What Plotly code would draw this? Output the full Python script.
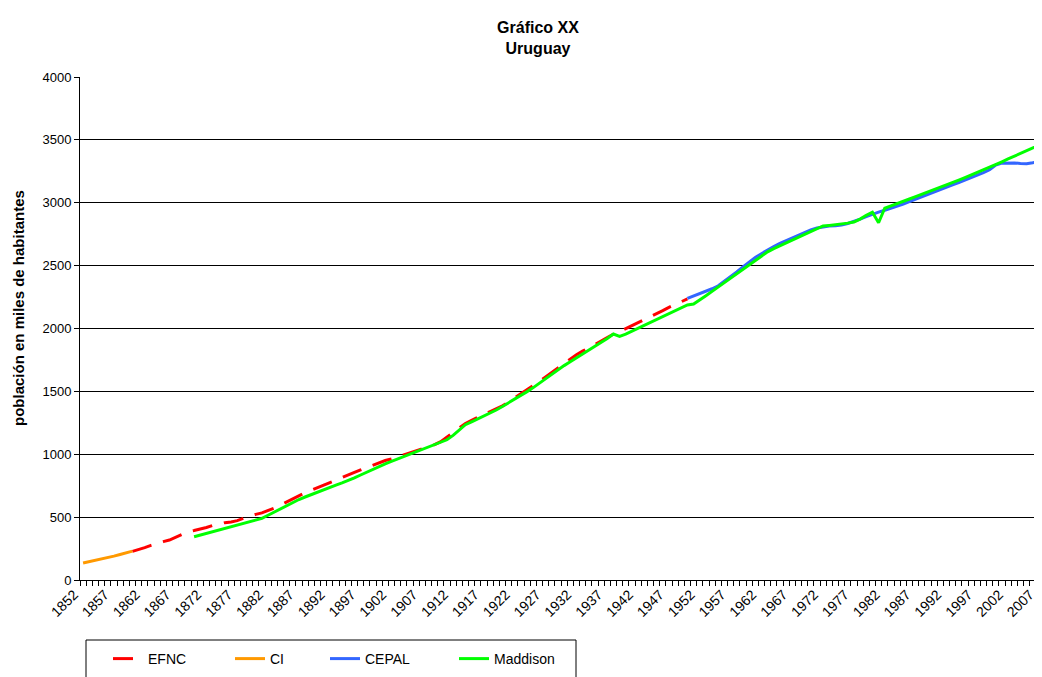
import plotly.graph_objects as go

# ---- data (thousands of inhabitants) ----
ci_years = list(range(1852, 1861))
ci_vals = [135, 145, 156, 167, 178, 190, 203, 216, 230]

efnc_years = list(range(1860, 1951))
efnc_vals = [228, 240, 257, 275, 292, 305, 318, 340, 362, 384,
             394, 403, 418, 433, 447, 456, 462, 472, 490, 508,
             522, 534, 550, 572, 596, 620, 645, 673, 694, 714,
             735, 755, 775, 795, 815, 835, 855, 875, 895, 915,
             935, 950, 962, 978, 995, 1010, 1022, 1040, 1058, 1076,
             1100, 1135, 1170, 1210, 1245, 1270, 1292, 1313, 1335, 1357,
             1385, 1415, 1447, 1478, 1510, 1545, 1580, 1615, 1650, 1690,
             1725, 1760, 1792, 1820, 1845, 1870, 1900, 1928, 1955, 1975,
             1998, 2022, 2045, 2070, 2093, 2118, 2142, 2168, 2190, 2213,
             2235]

cepal_years = list(range(1950, 2009))
cepal_vals = [2240, 2258, 2277, 2296, 2316, 2340, 2375, 2412, 2450, 2490,
              2530, 2565, 2595, 2625, 2652, 2678, 2700, 2722, 2745, 2765,
              2785, 2800, 2810, 2815, 2818, 2822, 2835, 2850, 2870, 2890,
              2910, 2925, 2940, 2955, 2972, 2990, 3010, 3028, 3047, 3066,
              3085, 3104, 3123, 3142, 3161, 3180, 3200, 3220, 3240, 3262,
              3300, 3315, 3318, 3317, 3312, 3310, 3318, 3330, 3340]

madd_years = list(range(1870, 2009))
madd_vals = [344, 357, 370, 383, 396, 409, 422, 435, 448, 461,
             474, 490, 515, 540, 566, 592, 620, 640, 660, 680,
             700, 718, 736, 754, 772, 790, 812, 835, 858, 882,
             905, 924, 943, 962, 981, 1000, 1018, 1036, 1054, 1072,
             1090, 1115, 1150, 1195, 1235, 1258, 1281, 1304, 1328, 1352,
             1380, 1408, 1438, 1468, 1498, 1530, 1565, 1600, 1640, 1675,
             1705, 1735, 1765, 1795, 1825, 1855, 1885, 1920, 1956, 1938,
             1955, 1978, 2000, 2022, 2045, 2068, 2090, 2115, 2138, 2161,
             2187, 2195, 2225, 2260, 2295, 2330, 2365, 2400, 2436, 2472,
             2508, 2545, 2580, 2610, 2635, 2658, 2680, 2702, 2725, 2746,
             2767, 2792, 2815, 2820, 2825, 2831, 2838, 2847, 2870, 2900,
             2925, 2841, 2956, 2975, 2995, 3012, 3030, 3048, 3066, 3085,
             3104, 3123, 3142, 3161, 3180, 3200, 3220, 3240, 3262, 3282,
             3304, 3326, 3348, 3370, 3392, 3414, 3436, 3459, 3480]

tick_years = list(range(1852, 2008, 5))

FONT = "Liberation Sans, Arial, sans-serif"
# page has an 8px body margin, so the figure is drawn at (8, 8)
W, H = 1034, 669

fig = go.Figure()
series = [
    ("EFNC", efnc_years, efnc_vals, dict(color="#FF0000", width=3, dash="20px,12px"), "legend", 100),
    ("CI", ci_years, ci_vals, dict(color="#FF9900", width=3), "legend2", 222),
    ("CEPAL", cepal_years, cepal_vals, dict(color="#3366FF", width=3), "legend3", 317),
    ("Maddison", madd_years, madd_vals, dict(color="#00FF00", width=3), "legend4", 446),
]
legend_layout = {}
for name, xs, ys, line, leg, lx in series:
    fig.add_trace(go.Scatter(x=xs, y=ys, mode="lines", name=name, line=line, legend=leg))
    legend_layout[leg] = dict(orientation="h", xref="container", yref="container",
                              x=lx / W, xanchor="left", y=1 - 635 / H, yanchor="top",
                              bgcolor="rgba(0,0,0,0)", borderwidth=0,
                              font=dict(size=14, family=FONT))

fig.update_layout(
    width=W, height=H,
    margin=dict(l=72, r=0, t=69, b=97, autoexpand=False),
    paper_bgcolor="white", plot_bgcolor="white",
    font=dict(family=FONT, size=12, color="black"),
    title=dict(text="<b>Gráfico XX</b><br><b>Uruguay</b>", x=530 / W, xanchor="center",
               xref="container", yref="container",
               y=1 - 25 / H, yanchor="top", font=dict(size=16, family=FONT)),
    showlegend=True,
    **legend_layout,
    shapes=[dict(type="rect", xref="paper", yref="paper",
                 x0=(86 - 80) / 962, x1=(576 - 80) / 962,
                 y0=(580 - 700) / 503, y1=(580 - 640) / 503,
                 line=dict(color="black", width=1), fillcolor="rgba(0,0,0,0)", layer="below")],
    annotations=[dict(text="<b>población en miles de habitantes</b>", textangle=-90,
                      xref="paper", yref="paper", x=(18 - 80) / 962, y=(580 - 308) / 503,
                      xanchor="center", yanchor="middle", showarrow=False,
                      font=dict(size=15, family=FONT))],
)
fig.update_xaxes(
    range=[1851.5, 2007.5], tickmode="array", tickvals=tick_years,
    ticktext=[str(y) for y in tick_years], tickangle=-45, ticks="",
    showline=True, linecolor="black", linewidth=1, showgrid=False, zeroline=False,
    tickfont=dict(size=14, family=FONT), automargin=False, ticklabeloverflow="allow",
    ticklabelshift=-9,
    minor=dict(ticks="outside", ticklen=5, tickcolor="black", tick0=1851.5, dtick=1, showgrid=False),
)
fig.update_yaxes(
    range=[0, 4000], dtick=500, ticks="outside", ticklen=5, tickcolor="black",
    showline=True, linecolor="black", linewidth=1,
    showgrid=True, gridcolor="black", gridwidth=1, zeroline=False,
    tickfont=dict(size=13, family=FONT), automargin=False,
)

fig.write_html("out.html")
